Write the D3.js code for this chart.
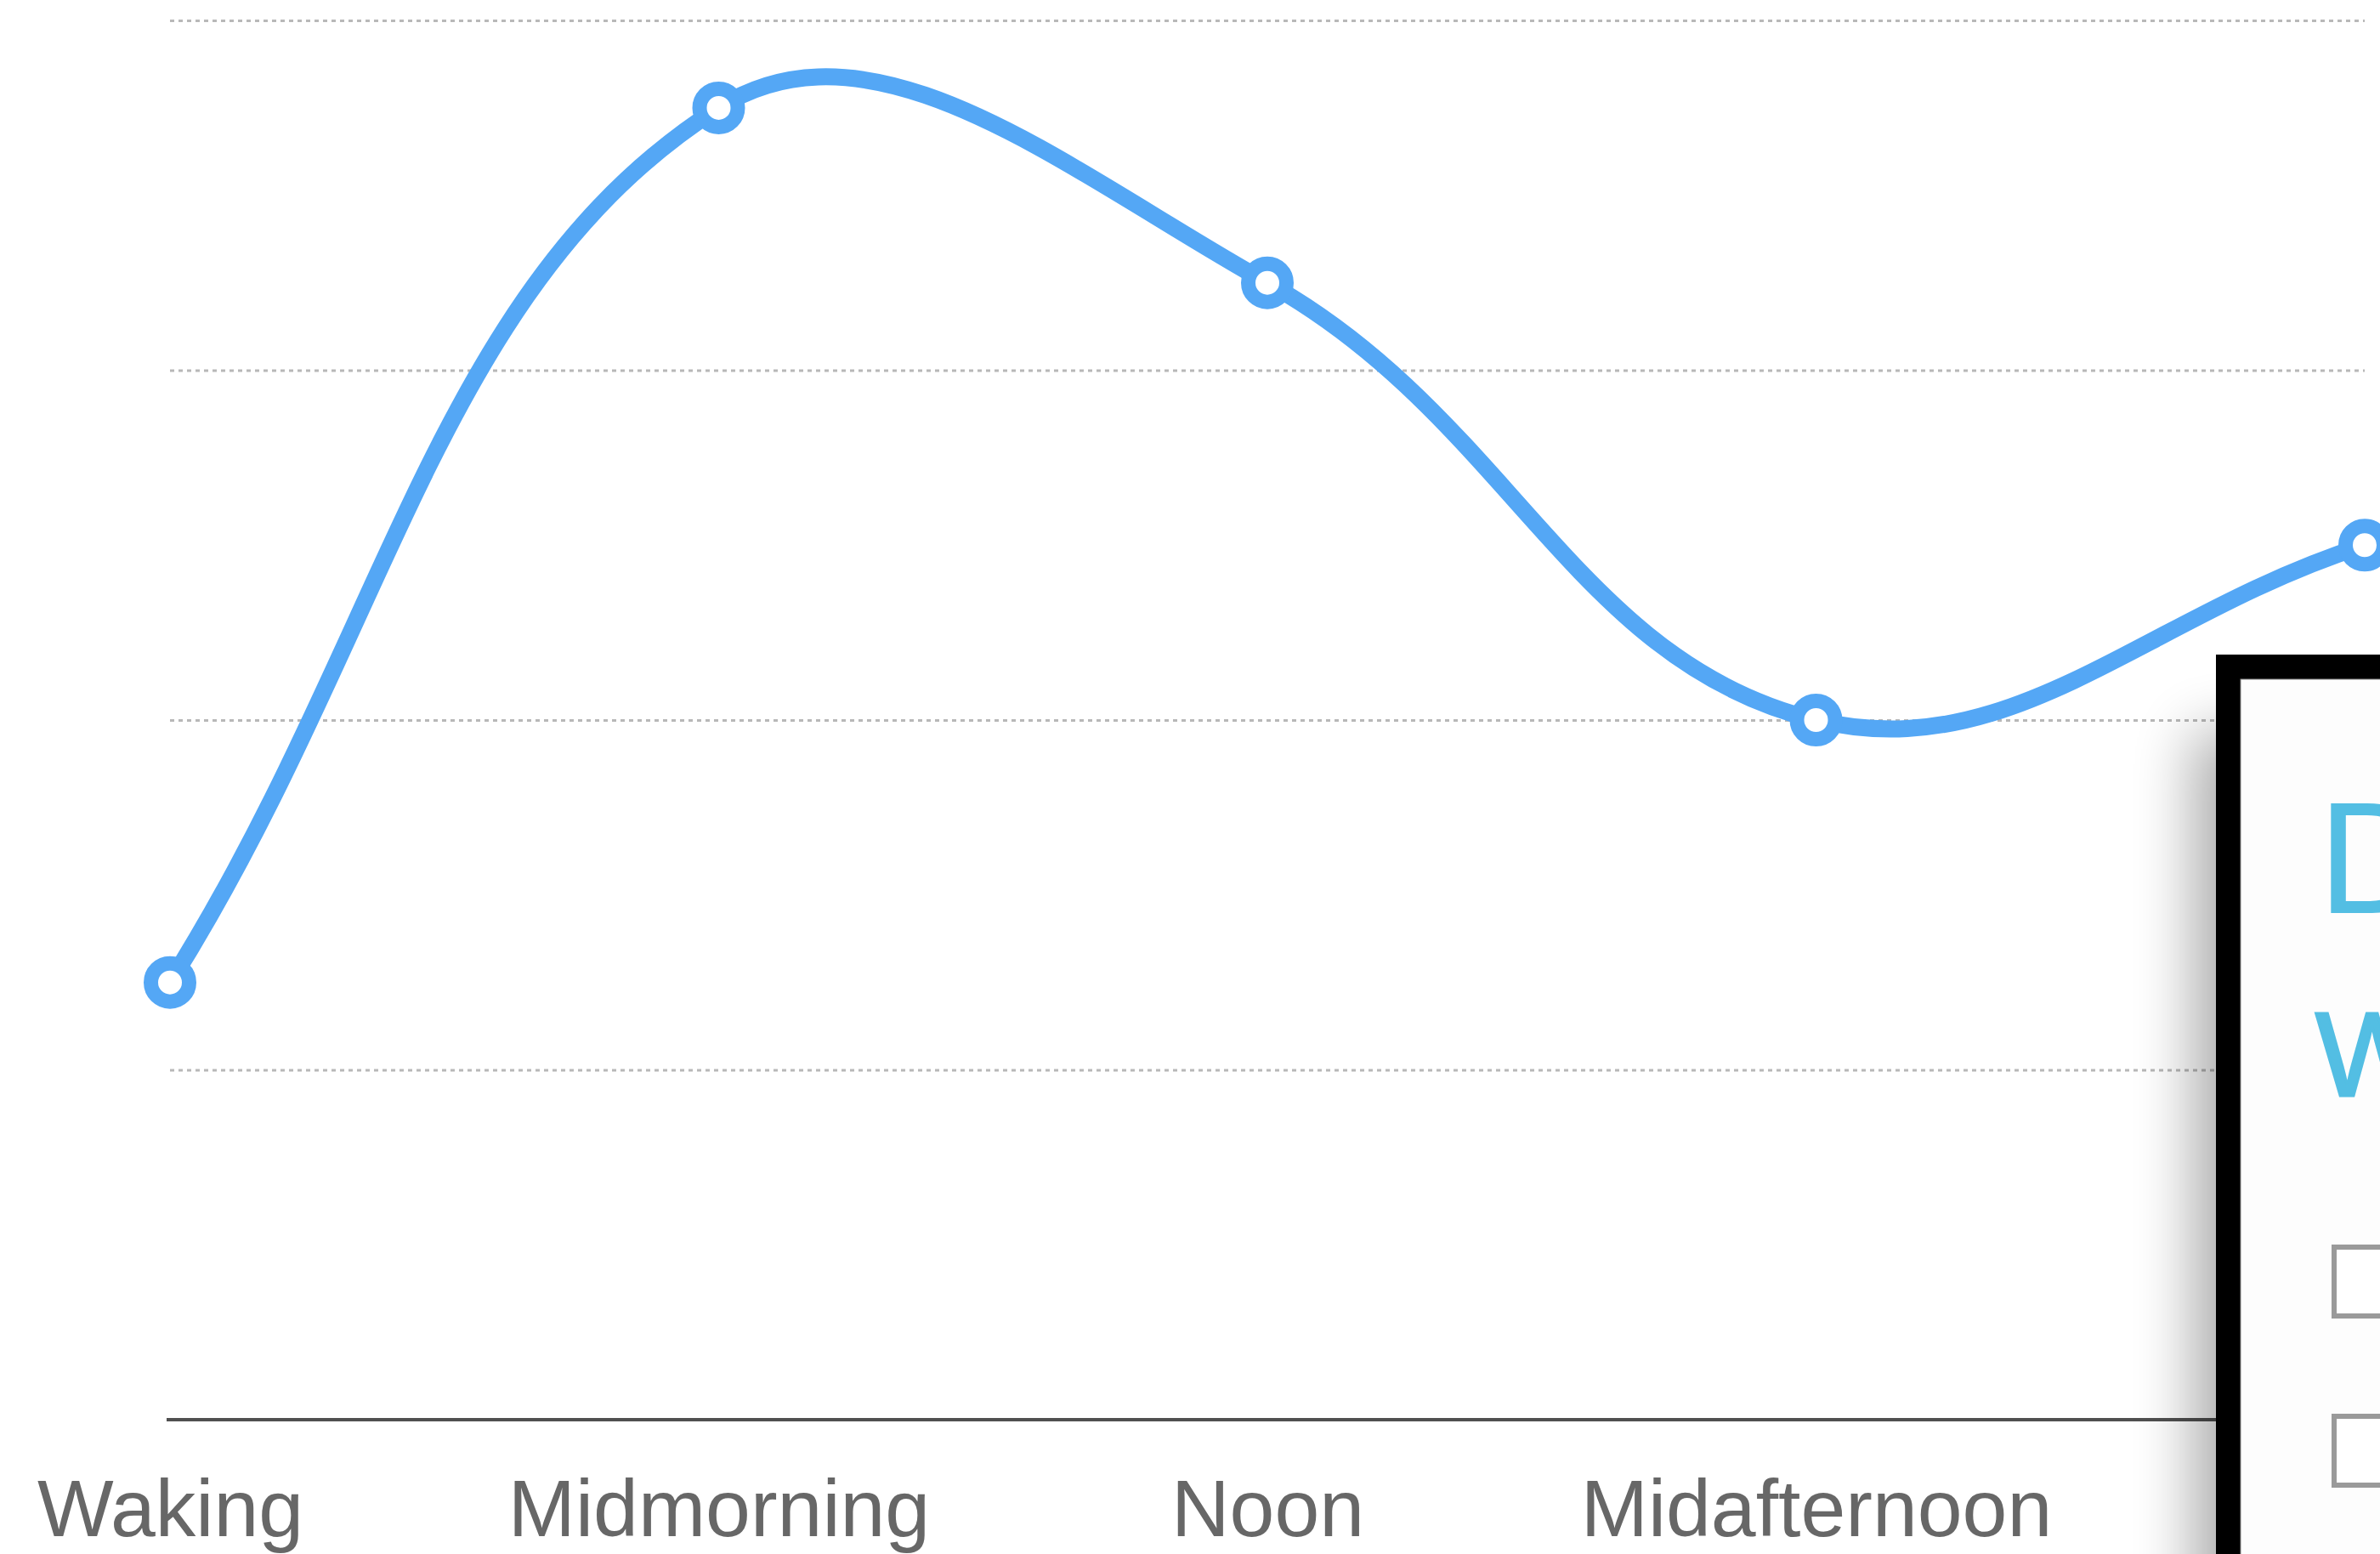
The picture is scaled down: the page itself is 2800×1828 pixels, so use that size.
<!DOCTYPE html>
<html>
<head>
<meta charset="utf-8">
<script src="https://cdnjs.cloudflare.com/ajax/libs/d3/7.8.5/d3.min.js"></script>
<style>
  html, body { margin: 0; padding: 0; background: #fff; overflow: hidden; }
  svg { display: block; }
  .xlab text { font-family: "Liberation Sans", Arial, Helvetica, sans-serif; fill: #676767; }
  .panel-text { font-family: "Liberation Sans", Arial, Helvetica, sans-serif; fill: #53bee3; }
</style>
</head>
<body>
<div id="chart"></div>
<script>
// ---- data
const categories = ["Waking", "Midmorning", "Noon", "Midafternoon", "Evening"];
const values = [12.5, 37.5, 32.5, 20, 25];
const gridTicks = [10, 20, 30, 40];

const W = 2800, H = 1828;
const margin = { top: 24, right: 18, bottom: 158, left: 200 };

// spline with distance weighted tangents (tension 0.4)
function splineCurve(context) {
  let pts = [];
  return {
    areaStart() {}, areaEnd() {},
    lineStart() { pts = []; },
    point(x, y) { pts.push([+x, +y]); },
    lineEnd() {
      const t = 0.4, n = pts.length;
      if (!n) return;
      const cp = pts.map((p, i) => {
        const prev = pts[Math.max(i - 1, 0)], next = pts[Math.min(i + 1, n - 1)];
        const d01 = Math.hypot(p[0] - prev[0], p[1] - prev[1]);
        const d12 = Math.hypot(next[0] - p[0], next[1] - p[1]);
        const s = d01 + d12 || 1;
        const fa = t * d01 / s, fb = t * d12 / s;
        return {
          before: [p[0] - fa * (next[0] - prev[0]), p[1] - fa * (next[1] - prev[1])],
          after: [p[0] + fb * (next[0] - prev[0]), p[1] + fb * (next[1] - prev[1])]
        };
      });
      context.moveTo(pts[0][0], pts[0][1]);
      for (let i = 1; i < n; i++) {
        const a = cp[i - 1].after, b = cp[i].before;
        context.bezierCurveTo(a[0], a[1], b[0], b[1], pts[i][0], pts[i][1]);
      }
    }
  };
}

const svg = d3.select("#chart").append("svg")
  .attr("width", W)
  .attr("height", H);

svg.append("rect").attr("width", W).attr("height", H).attr("fill", "#fff");

const x = d3.scalePoint()
  .domain(categories)
  .range([margin.left, W - margin.right]);

const y = d3.scaleLinear()
  .domain([0, 40])
  .range([H - margin.bottom, margin.top]);

// gridlines (dotted)
const grid = svg.append("g")
  .attr("transform", `translate(${margin.left},0)`)
  .call(d3.axisLeft(y).tickValues(gridTicks).tickSize(-(W - margin.right - margin.left)).tickFormat(""));
grid.select(".domain").remove();
grid.selectAll("line")
  .attr("stroke", "#b8b8b8")
  .attr("stroke-width", 3)
  .attr("stroke-dasharray", "5,5");

// x axis with category labels
const xAxis = svg.append("g")
  .attr("class", "xlab")
  .attr("transform", `translate(0,${y(0)})`)
  .call(d3.axisBottom(x).tickSize(0).tickSizeOuter(0).tickPadding(70));
xAxis.select(".domain")
  .attr("stroke", "#505050")
  .attr("stroke-width", 4)
  .attr("d", `M${margin.left - 4},0H${W - margin.right}`);
xAxis.selectAll("text")
  .attr("font-size", 95)
  .attr("fill", "#676767");

// line
const line = d3.line()
  .x((d, i) => x(categories[i]))
  .y(d => y(d))
  .curve(splineCurve);

svg.append("path")
  .datum(values)
  .attr("d", line)
  .attr("fill", "none")
  .attr("stroke", "#54a7f5")
  .attr("stroke-width", 20)
  .attr("stroke-linecap", "round");

svg.selectAll(".pt")
  .data(values)
  .enter().append("circle")
  .attr("class", "pt")
  .attr("cx", (d, i) => x(categories[i]))
  .attr("cy", d => y(d))
  .attr("r", 22.5)
  .attr("fill", "#fff")
  .attr("stroke", "#54a7f5")
  .attr("stroke-width", 17);

// ---- overlay panel on the right
const defs = svg.append("defs");
defs.append("filter")
  .attr("id", "shadowBlur")
  .attr("x", "-50%").attr("y", "-50%").attr("width", "200%").attr("height", "200%")
  .append("feGaussianBlur")
  .attr("stdDeviation", 35);

const px = 2607, py = 770;

svg.append("rect")
  .attr("x", px - 27)
  .attr("y", py + 90)
  .attr("width", 200)
  .attr("height", 1200)
  .attr("fill", "#000")
  .attr("opacity", 0.32)
  .attr("filter", "url(#shadowBlur)");

svg.append("rect")
  .attr("x", px).attr("y", py)
  .attr("width", 400).attr("height", 1200)
  .attr("fill", "#000");

svg.append("rect")
  .attr("x", px + 29).attr("y", py + 29)
  .attr("width", 400).attr("height", 1200)
  .attr("fill", "#fdfdfd")
  .attr("stroke", "#8a8a8a")
  .attr("stroke-width", 1);

svg.append("text")
  .attr("class", "panel-text")
  .attr("x", 2727)
  .attr("y", 1074)
  .attr("font-size", 187)
  .text("Daily Energy");

svg.append("text")
  .attr("class", "panel-text")
  .attr("x", 2724)
  .attr("y", 1289)
  .attr("font-size", 141)
  .attr("stroke", "#53bee3")
  .attr("stroke-width", 3)
  .text("Weekly view");

[1464, 1663].forEach(top => {
  svg.append("rect")
    .attr("x", 2746)
    .attr("y", top + 3)
    .attr("width", 120)
    .attr("height", 81)
    .attr("fill", "#fff")
    .attr("stroke", "#9a9a9a")
    .attr("stroke-width", 6);
});
</script>
</body>
</html>
